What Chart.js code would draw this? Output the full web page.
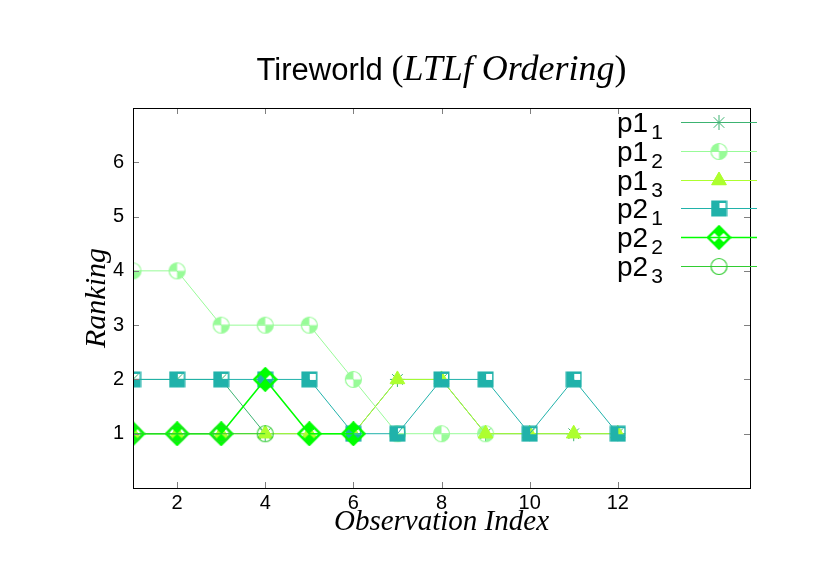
<!DOCTYPE html>
<html>
<head>
<meta charset="utf-8">
<script src="https://cdn.jsdelivr.net/npm/chart.js@4.4.0/dist/chart.umd.min.js"></script>
<style>
  html, body { margin: 0; padding: 0; background: #fff; }
  canvas { display: block; }
</style>
</head>
<body>
<canvas id="chart" width="830" height="587"></canvas>
<script>
// observation index and rankings
const obsIndex = [1, 2, 3, 4, 5, 6, 7, 8, 9, 10, 11, 12];
const p1_1 = [2, 2, 2, 1, 1, 1, 2, 2, 1, 1, 1, 1];
const p1_2 = [4, 4, 3, 3, 3, 2, 1, 1, 1];
const p1_3 = [1, 1, 1, 1, 1, 1, 2, 2, 1, 1, 1, 1];
const p2_1 = [2, 2, 2, 2, 2, 1, 1, 2, 2, 1, 2, 1];
const p2_2 = [1, 1, 1, 2, 1, 1];
const p2_3 = [1, 1, 1, 1];

const xTicks = [2, 4, 6, 8, 10, 12];
const yTicks = [1, 2, 3, 4, 5, 6];

const SANS = '"Liberation Sans", Arial, sans-serif';
const SERIF = '"Liberation Serif", "Times New Roman", serif';

// custom marker images (gnuplot style point types)
function makeCanvas(w, h) {
    const c = document.createElement('canvas');
    c.width = w; c.height = h;
    return c;
}

function squareMarker(color) {
    const c = makeCanvas(17, 17);
    const g = c.getContext('2d');
    g.fillStyle = color;
    g.fillRect(0.5, 0.5, 16, 16);
    g.clearRect(9, 2.5, 6, 6);
    return c;
}

function checkCircle(color) {
    const c = makeCanvas(19, 19);
    const g = c.getContext('2d');
    const cx = 9.5, cy = 9.5, r = 8;
    g.fillStyle = color;
    g.beginPath(); g.moveTo(cx, cy); g.arc(cx, cy, r, Math.PI, 1.5 * Math.PI); g.closePath(); g.fill();
    g.beginPath(); g.moveTo(cx, cy); g.arc(cx, cy, r, 0, 0.5 * Math.PI); g.closePath(); g.fill();
    g.strokeStyle = color;
    g.lineWidth = 1.2;
    g.beginPath(); g.arc(cx, cy, r, 0, 2 * Math.PI); g.stroke();
    return c;
}

function openCircle(color) {
    const c = makeCanvas(19, 19);
    const g = c.getContext('2d');
    g.strokeStyle = color;
    g.lineWidth = 1.2;
    g.beginPath(); g.arc(9.5, 9.5, 8, 0, 2 * Math.PI); g.stroke();
    return c;
}

function diamondMarker(color) {
    const c = makeCanvas(25, 25);
    const g = c.getContext('2d');
    const cx = 12.5, cy = 12.5, h = 11;
    g.fillStyle = color;
    // top and bottom quarters filled, side quarters left open
    g.beginPath();
    g.moveTo(cx, cy - h); g.lineTo(cx + h / 2, cy - h / 2); g.lineTo(cx, cy); g.lineTo(cx - h / 2, cy - h / 2);
    g.closePath(); g.fill();
    g.beginPath();
    g.moveTo(cx, cy + h); g.lineTo(cx + h / 2, cy + h / 2); g.lineTo(cx, cy); g.lineTo(cx - h / 2, cy + h / 2);
    g.closePath(); g.fill();
    g.strokeStyle = color;
    g.lineWidth = 2.5;
    g.beginPath();
    g.moveTo(cx, cy - h); g.lineTo(cx + h, cy); g.lineTo(cx, cy + h); g.lineTo(cx - h, cy);
    g.closePath(); g.stroke();
    return c;
}

const colors = {
    p1_1: '#3cb371',
    p1_2: '#98fb98',
    p1_3: '#adff2f',
    p2_1: '#20b2aa',
    p2_2: '#00ff00',
    p2_3: '#32cd32'
};

function pts(vals) {
    return vals.map((v, i) => ({ x: obsIndex[i], y: v }));
}

const series = [
    { sub: '1', main: 'p1', data: p1_1, color: colors.p1_1, style: 'star', radius: 7.5, width: 1 },
    { sub: '2', main: 'p1', data: p1_2, color: colors.p1_2, style: checkCircle(colors.p1_2), radius: 8, width: 1 },
    { sub: '3', main: 'p1', data: p1_3, color: colors.p1_3, style: 'triangle', radius: 8.5, width: 1 },
    { sub: '1', main: 'p2', data: p2_1, color: colors.p2_1, style: squareMarker(colors.p2_1), radius: 8, width: 1 },
    { sub: '2', main: 'p2', data: p2_2, color: colors.p2_2, style: diamondMarker(colors.p2_2), radius: 11, width: 1.6 },
    { sub: '3', main: 'p2', data: p2_3, color: colors.p2_3, style: openCircle(colors.p2_3), radius: 8, width: 1 }
];

const datasets = series.map((s, i) => ({
    label: s.main + '_' + s.sub,
    data: pts(s.data),
    borderColor: s.color,
    backgroundColor: s.color,
    borderWidth: s.width,
    pointStyle: s.style,
    pointRadius: s.radius,
    pointBorderWidth: 1,
    pointBorderColor: s.color,
    pointBackgroundColor: s.color,
    showLine: true,
    tension: 0,
    order: series.length - i
}));

const titlePlugin = {
    id: 'gnuTitle',
    afterDraw(chart) {
        const { ctx, chartArea: a } = chart;
        ctx.save();
        ctx.fillStyle = '#000';
        ctx.textBaseline = 'alphabetic';
        const parts = [
            { t: 'Tireworld ', f: '31px ' + SANS },
            { t: '(', f: '36px ' + SERIF },
            { t: 'LTLf Ordering', f: 'italic 36px ' + SERIF },
            { t: ')', f: '36px ' + SERIF }
        ];
        let total = 0;
        parts.forEach(p => { ctx.font = p.f; p.w = ctx.measureText(p.t).width; total += p.w; });
        let x = (a.left + a.right) / 2 - total / 2;
        parts.forEach(p => { ctx.font = p.f; ctx.fillText(p.t, x, 80); x += p.w; });
        ctx.restore();
    }
};

const framePlugin = {
    id: 'gnuFrame',
    afterDatasetsDraw(chart) {
        const { ctx, chartArea: a, scales } = chart;
        ctx.save();
        ctx.strokeStyle = '#7f7f7f';
        ctx.lineWidth = 1;
        ctx.beginPath();
        xTicks.forEach(v => {
            const px = Math.round(scales.x.getPixelForValue(v)) + 0.5;
            ctx.moveTo(px, a.bottom); ctx.lineTo(px, a.bottom - 6);
            ctx.moveTo(px, a.top); ctx.lineTo(px, a.top + 6);
        });
        yTicks.forEach(v => {
            const py = Math.round(scales.y.getPixelForValue(v)) + 0.5;
            ctx.moveTo(a.left, py); ctx.lineTo(a.left + 6, py);
            ctx.moveTo(a.right, py); ctx.lineTo(a.right - 6, py);
        });
        ctx.stroke();
        ctx.strokeStyle = '#000';
        ctx.strokeRect(Math.round(a.left) + 0.5, Math.round(a.top) + 0.5,
            Math.round(a.right - a.left), Math.round(a.bottom - a.top));
        ctx.restore();
    }
};

const legendPlugin = {
    id: 'gnuLegend',
    afterDraw(chart) {
        const ctx = chart.ctx;
        ctx.save();
        series.forEach((s, i) => {
            const y = 122 + i * 28.8;
            ctx.fillStyle = '#000';
            ctx.textBaseline = 'alphabetic';
            ctx.font = '28px ' + SANS;
            ctx.fillText(s.main, 617, y + 10);
            const w = ctx.measureText(s.main).width;
            ctx.font = '21px ' + SANS;
            ctx.fillText(s.sub, 617 + w + 3, y + 17);
            ctx.strokeStyle = s.color;
            ctx.lineWidth = s.width;
            ctx.beginPath();
            ctx.moveTo(681, Math.round(y) + 0.5);
            ctx.lineTo(757, Math.round(y) + 0.5);
            ctx.stroke();
            ctx.fillStyle = s.color;
            ctx.lineWidth = 1;
            if (typeof s.style === 'string') {
                Chart.helpers.drawPoint(ctx, { pointStyle: s.style, radius: s.radius, borderWidth: 1, rotation: 0 }, 719, Math.round(y) + 0.5);
                if (s.style === 'triangle') ctx.fill();
            } else {
                ctx.drawImage(s.style, 719 - s.style.width / 2, Math.round(y) + 0.5 - s.style.height / 2);
            }
        });
        ctx.restore();
    }
};

new Chart(document.getElementById('chart'), {
    type: 'line',
    data: { datasets: datasets },
    options: {
        responsive: false,
        animation: false,
        events: [],
        layout: { padding: { top: 108, right: 80, left: 0, bottom: 0 } },
        plugins: {
            legend: { display: false },
            tooltip: { enabled: false },
            title: { display: false }
        },
        scales: {
            x: {
                type: 'linear',
                min: 1,
                max: 15,
                grid: { display: false, drawTicks: false },
                border: { display: false },
                afterFit(scale) { scale.height = 99; },
                afterBuildTicks(scale) { scale.ticks = xTicks.map(v => ({ value: v })); },
                ticks: { color: '#000', padding: 3, maxRotation: 0, font: { family: SANS, size: 20 } },
                title: {
                    display: true,
                    text: 'Observation Index',
                    color: '#000',
                    padding: { top: 0, bottom: 47 },
                    font: { family: SERIF, size: 29, style: 'italic' }
                }
            },
            y: {
                min: 0,
                max: 7,
                grid: { display: false, drawTicks: false },
                border: { display: false },
                afterFit(scale) { scale.width = 133; },
                afterBuildTicks(scale) { scale.ticks = yTicks.map(v => ({ value: v })); },
                ticks: { color: '#000', padding: 9, font: { family: SANS, size: 20 } },
                title: {
                    display: true,
                    text: 'Ranking',
                    color: '#000',
                    padding: { top: 79, bottom: 0 },
                    font: { family: SERIF, size: 30, style: 'italic' }
                }
            }
        }
    },
    plugins: [framePlugin, titlePlugin, legendPlugin]
});
</script>
</body>
</html>
